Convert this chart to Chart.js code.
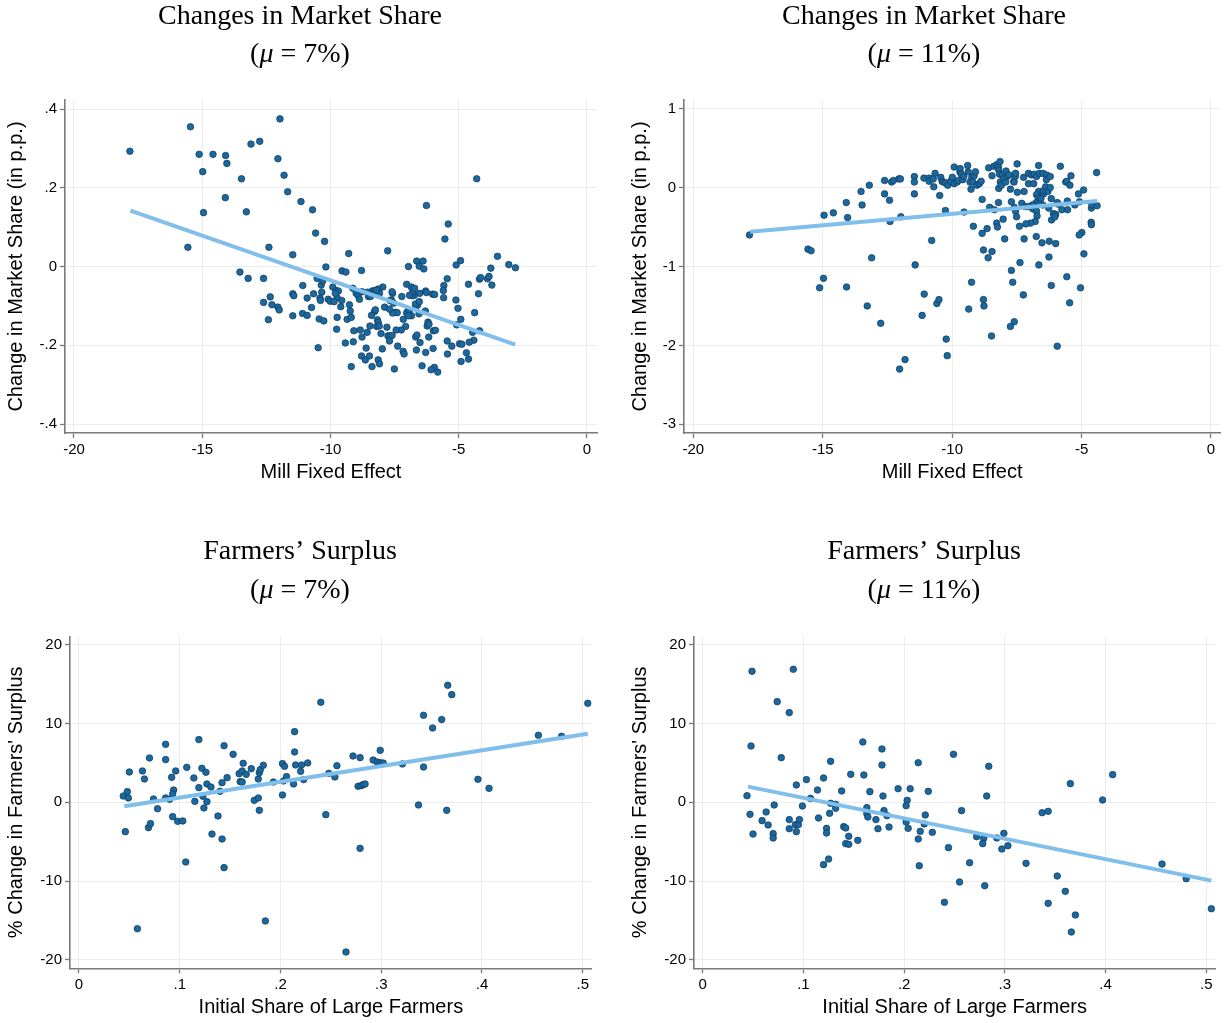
<!DOCTYPE html>
<html>
<head>
<meta charset="utf-8">
<script src="https://cdn.jsdelivr.net/npm/chart.js@4.4.1/dist/chart.umd.min.js"></script>
<style>
  body { margin: 0; background: #fff; }
  #wrap { position: relative; width: 1225px; height: 1023px; }
  canvas { position: absolute; }
</style>
</head>
<body>
<div id="wrap">
  <canvas id="share7" width="612" height="511" style="left:0;top:0"></canvas>
  <canvas id="share11" width="613" height="511" style="left:612px;top:0"></canvas>
  <canvas id="surplus7" width="612" height="512" style="left:0;top:511px"></canvas>
  <canvas id="surplus11" width="613" height="512" style="left:612px;top:511px"></canvas>
</div>
<script>
// Tick values and labels
const millTicks = [-20, -15, -10, -5, 0];
const millLabels = ['-20', '-15', '-10', '-5', '0'];
const share7Ticks = [-0.4, -0.2, 0, 0.2, 0.4];
const share7Labels = ['-.4', '-.2', '0', '.2', '.4'];
const share11Ticks = [-3, -2, -1, 0, 1];
const share11Labels = ['-3', '-2', '-1', '0', '1'];
const largeTicks = [0, 0.1, 0.2, 0.3, 0.4, 0.5];
const largeLabels = ['0', '.1', '.2', '.3', '.4', '.5'];
const surplusTicks = [-20, -10, 0, 10, 20];
const surplusLabels = ['-20', '-10', '0', '10', '20'];

// Top-left: market share change, mu = 7%
const share7X = [
  -17.82,-15.46,-15.12,-14.58,-14.09,-14.04,-14.98,-13.10,-12.76,-11.97,-12.05,-11.81,-13.47,-11.67,-11.15,-10.70,
  -14.10,-14.95,-13.28,-10.58,-10.23,-15.56,-12.40,-11.47,-10.18,-13.53,-9.29,-7.77,-9.55,-9.40,-8.79,-6.96,
  -6.64,-6.39,-6.54,-6.36,-6.26,-5.41,-5.54,-4.30,-5.10,-4.93,-3.75,-3.49,-3.05,-2.79,-13.21,-12.61,
  -12.61,-12.35,-12.28,-12.05,-12.00,-12.42,-11.47,-11.43,-11.08,-10.91,-10.66,-10.74,-11.47,-11.09,-10.91,-10.36,
  -10.34,-10.41,-10.39,-10.09,-10.01,-10.44,-10.26,-10.48,-10.52,-9.91,-9.78,-9.74,-9.74,-9.76,-5.45,-5.58,
  -5.60,-5.59,-5.11,-5.03,-4.92,-5.08,-4.62,-4.23,-4.38,-4.19,-4.15,-3.88,-3.82,-3.71,-4.19,-4.46,
  -4.41,-4.59,-4.97,-4.88,-5.27,-5.45,-5.44,-4.70,-4.62,-4.91,-5.82,-5.95,-6.08,-6.43,-6.00,-6.29,
  -6.65,-6.51,-6.68,-6.63,-6.17,-5.99,-5.91,-6.23,-6.20,-6.16,-6.30,-6.55,-6.67,-6.60,-6.69,-6.54,
  -6.73,-6.82,-6.79,-6.92,-6.85,-7.03,-6.72,-6.52,-6.29,-6.26,-6.02,-5.94,-7.22,-6.99,-7.03,-6.93,
  -7.16,-6.84,-6.95,-7.07,-7.24,-7.44,-7.38,-7.17,-7.13,-7.51,-7.98,-7.80,-7.76,-7.68,-7.60,-7.70,
  -8.03,-7.48,-7.40,-7.58,-7.89,-7.70,-7.54,-7.62,-7.68,-7.58,-7.60,-7.96,-8.14,-8.09,-8.37,-8.28,
  -8.20,-8.52,-8.44,-8.56,-8.28,-8.25,-8.40,-8.17,-8.14,-8.20,-8.10,-8.46,-8.57,-8.77,-8.84,-9.09,
  -8.61,-9.11,-9.42,-8.79,-8.64,-8.48,-8.14,-8.09,-8.38,-9.19,-9.35,-9.19,-9.60,-9.26,-9.23,-9.56,
  -9.86,-9.69,-9.81,-10.30,-9.13,-9.00,-8.92,-8.87,-8.77
];
const share7Y = [
  0.293,0.355,0.285,0.285,0.282,0.262,0.241,0.311,0.318,0.375,0.274,0.232,0.223,0.190,0.165,0.144,
  0.175,0.137,0.139,0.085,0.064,0.049,0.049,0.030,-0.001,-0.014,0.033,0.040,-0.011,-0.014,-0.010,0.000,
  0.014,0.014,0.001,-0.006,0.155,0.108,0.070,0.223,0.004,0.015,-0.004,0.026,0.005,-0.003,-0.030,-0.030,
  -0.091,-0.077,-0.097,-0.103,-0.110,-0.135,-0.069,-0.074,-0.048,-0.080,-0.069,-0.104,-0.125,-0.119,-0.124,-0.047,
  -0.065,-0.080,-0.086,-0.083,-0.088,-0.133,-0.138,-0.206,-0.030,-0.052,-0.061,-0.079,-0.129,-0.159,-0.031,-0.048,
  -0.061,-0.079,-0.085,-0.106,-0.134,-0.148,-0.045,-0.069,-0.117,-0.032,-0.028,-0.031,-0.025,-0.047,-0.163,-0.167,
  -0.187,-0.192,-0.196,-0.197,-0.202,-0.189,-0.222,-0.219,-0.235,-0.241,-0.268,-0.256,-0.262,-0.252,-0.208,-0.218,
  -0.212,-0.193,-0.179,-0.174,-0.179,-0.163,-0.162,-0.151,-0.141,-0.146,-0.113,-0.120,-0.103,-0.097,-0.095,-0.089,
  -0.073,-0.074,-0.064,-0.073,-0.052,-0.045,-0.055,-0.068,-0.062,-0.066,-0.070,-0.071,-0.076,-0.114,-0.118,-0.113,
  -0.134,-0.125,-0.125,-0.152,-0.161,-0.161,-0.202,-0.215,-0.222,-0.260,-0.209,-0.154,-0.176,-0.176,-0.175,-0.189,
  -0.170,-0.116,-0.117,-0.118,-0.103,-0.108,-0.093,-0.085,-0.086,-0.068,-0.064,-0.052,-0.057,-0.068,-0.062,-0.061,
  -0.060,-0.076,-0.076,-0.065,-0.114,-0.110,-0.124,-0.135,-0.142,-0.152,-0.151,-0.151,-0.167,-0.179,-0.161,-0.163,
  -0.207,-0.191,-0.194,-0.227,-0.237,-0.227,-0.237,-0.247,-0.254,-0.254,-0.134,-0.129,-0.102,-0.097,-0.113,-0.086,
  -0.089,-0.062,-0.068,-0.036,-0.055,-0.068,-0.074,-0.083,-0.064
];
const share7FitX = [-17.8, -2.8];
const share7FitY = [0.142, -0.198];

// Top-right: market share change, mu = 11%
const share11X = [
  -17.83,-15.57,-15.45,-13.11,-11.43,-10.79,-14.97,-14.95,-14.59,-14.04,-14.09,-13.48,-13.52,-13.20,-12.61,-12.42,
  -12.40,-11.98,-12.61,-12.34,-12.27,-12.06,-12.00,-11.46,-11.46,-11.46,-11.09,-10.89,-10.89,-10.66,-10.73,-10.71,
  -10.48,-10.44,-10.39,-10.34,-10.26,-10.17,-10.26,
  -10.06,-9.99,-9.92,-9.92,-9.81,-9.76,-9.70,-9.69,-9.65,-9.59,-9.55,-9.40,-9.38,-9.31,-9.27,-9.24,
  -9.20,-9.15,-9.10,-9.04,-8.95,-8.88,-8.84,-8.59,-8.46,-8.39,-8.28,-8.21,-8.15,-8.20,-8.17,-8.06,
  -8.14,-8.20,-8.10,-7.92,-8.02,-7.93,-7.88,-7.80,-7.75,-7.62,-7.56,-7.55,-7.61,-7.49,-7.48,-7.22,
  -7.24,-7.05,-7.05,-6.93,-6.85,-6.83,-6.74,-6.66,-6.63,-6.49,-6.35,-6.36,-6.21,-6.47,-6.66,-6.74,
  -6.67,-6.75,-6.57,-6.48,-6.39,-6.30,-6.21,-6.17,-6.50,-6.66,-6.77,-6.88,-6.90,-6.74,-6.72,-6.79,
  -6.97,-7.15,-7.40,-7.55,-7.51,-7.60,-7.71,-7.31,-7.17,-7.04,-8.21,-8.55,-8.37,-8.28,-8.25,-8.65,
  -8.84,-9.18,-8.03,-7.97,-7.22,-6.75,-6.53,-6.25,-6.00,-6.26,-6.65,-7.38,-7.71,-7.66,-9.25,-8.46,
  -8.79,-8.61,-9.54,-6.17,-5.57,-5.90,-5.76,-5.54,-5.94,-6.27,-6.09,-6.00,-6.16,-6.03,-5.61,-5.57,
  -5.45,-5.41,-5.82,-5.12,-4.92,-4.62,-4.60,-4.40,-4.42,-5.55,-5.26,-5.08,-4.63,-4.62,-4.99,-5.09,
  -4.91,
  -11.08,-11.16,-10.59,-10.51,-10.23,-10.19,-11.82,-12.03,-9.36,-8.79,-8.77,-8.48,-7.75,-7.60,-7.25,-5.46,
  -5.94,-5.04,-15.12,-14.08,-13.28,-12.76
];
const share11Y = [
  -0.60,-0.78,-0.80,-0.89,-0.98,-0.67,-1.15,-0.35,-0.32,-0.38,-0.19,-0.22,-0.05,0.03,-0.08,-0.16,
  -0.43,-0.37,0.09,0.07,0.09,0.11,0.11,0.14,0.07,-0.08,0.12,0.12,0.08,0.18,0.11,0.01,
  -0.10,0.13,0.08,0.07,0.06,0.03,-0.29,
  0.08,0.13,0.26,0.05,0.07,0.09,0.20,0.24,0.17,0.10,0.14,0.28,0.20,0.07,-0.02,0.13,
  0.07,0.15,0.20,0.03,0.05,0.08,-0.15,0.25,0.15,0.27,0.29,0.26,0.33,0.22,0.17,0.16,
  0.07,-0.01,0.03,0.21,0.11,0.07,0.14,0.16,-0.02,0.08,0.14,0.18,0.07,0.30,-0.06,-0.05,
  0.13,0.18,0.05,0.16,0.05,0.17,0.14,0.28,0.18,0.18,0.16,0.10,0.14,-0.08,-0.05,-0.09,
  -0.13,-0.19,-0.14,-0.04,0.01,-0.05,0.00,-0.14,-0.22,-0.21,-0.25,-0.27,-0.22,-0.30,-0.36,-0.43,
  -0.45,-0.46,-0.49,-0.30,-0.37,-0.25,-0.18,-0.20,-0.24,-0.24,-0.19,-0.25,-0.28,-0.45,-0.50,-0.52,
  -0.58,-0.49,-0.40,-0.65,-0.65,-0.62,-0.70,-0.68,-0.71,-0.88,-0.98,-0.95,-1.05,-1.20,-1.20,-0.81,
  -0.79,-0.89,-0.31,-1.24,-1.13,-0.21,-0.28,-0.28,-0.19,-0.26,-0.33,-0.34,-0.41,-0.37,0.07,0.08,
  0.03,0.15,0.27,-0.08,-0.03,-0.26,-0.22,-0.23,0.19,-0.17,-0.22,-0.18,-0.44,-0.47,-0.57,-0.60,
  -0.84,
  -1.35,-1.62,-1.47,-1.42,-1.92,-2.13,-2.18,-2.30,-1.54,-1.42,-1.50,-1.88,-1.76,-1.70,-1.36,-1.46,
  -2.01,-1.27,-1.27,-1.26,-1.50,-1.72
];
const share11FitX = [-17.8, -4.4];
const share11FitY = [-0.56, -0.17];

// Bottom-left: farmers' surplus, mu = 7%
const surplus7X = [
  0.044,0.048,0.049,0.050,0.046,0.063,0.065,0.058,0.070,0.074,0.078,0.069,0.071,0.086,0.086,0.086,
  0.090,0.092,0.094,0.093,0.096,0.093,0.098,0.103,0.106,0.107,0.114,0.115,0.119,0.119,0.122,0.126,
  0.123,0.127,0.127,0.124,0.131,0.132,0.138,0.140,0.142,0.142,0.144,0.144,0.147,0.153,0.159,0.160,
  0.162,0.162,0.163,0.166,0.171,0.174,0.178,0.178,0.179,0.180,0.183,0.179,0.185,0.193,0.202,0.204,
  0.203,0.202,0.206,0.213,0.214,0.214,0.215,0.221,0.220,0.223,0.227,0.240,0.245,0.248,0.254,0.256,
  0.265,0.272,0.279,0.277,0.280,0.282,0.284,0.279,0.292,0.296,0.299,0.302,0.299,0.321,0.337,0.342,
  0.342,0.351,0.360,0.365,0.366,0.370,0.396,0.407,0.456,0.479,0.505
];
const surplus7Y = [
  0.80,1.35,0.55,3.85,-3.73,3.98,2.96,-16.05,5.63,0.42,-0.81,-3.22,-2.71,7.36,5.42,0.55,
  0.38,3.17,1.56,1.06,3.98,-1.82,-2.42,-2.37,-7.58,4.44,3.09,0.12,1.86,7.96,4.32,3.81,
  0.76,2.33,0.08,-0.72,1.94,-4.03,-1.74,1.39,-4.66,2.49,-8.30,7.19,3.13,6.09,3.64,2.62,
  2.58,3.98,4.95,3.55,4.27,0.25,0.55,2.96,3.76,4.15,4.70,-1.02,-15.07,2.58,4.91,4.57,
  2.71,0.93,3.26,2.33,6.39,8.97,4.74,4.74,3.93,2.88,5.00,12.70,-1.57,3.68,3.22,4.65,
  -19.01,5.88,5.67,2.03,2.11,2.24,2.33,-5.85,5.37,5.12,5.03,4.99,6.60,4.87,-0.34,4.48,
  11.05,9.44,10.50,-1.02,14.86,13.67,2.92,1.77,8.51,8.38,12.57
];
const surplus7FitX = [0.045, 0.505];
const surplus7FitY = [-0.5, 8.7];

// Bottom-right: farmers' surplus, mu = 11%
const surplus11X = [
  0.049,0.090,0.074,0.086,0.048,0.078,0.044,0.047,0.050,0.059,0.063,0.065,0.070,0.070,0.071,0.086,
  0.086,0.093,0.092,0.095,0.093,0.096,0.099,0.103,0.107,0.114,0.115,0.120,0.123,0.123,0.120,0.125,
  0.127,0.126,0.127,0.132,0.132,0.138,0.140,0.142,0.145,0.142,0.145,0.147,0.154,0.159,0.160,0.163,
  0.163,0.164,0.166,0.172,0.174,0.178,0.178,0.179,0.180,0.183,0.185,0.194,0.203,0.202,0.202,0.204,
  0.206,0.214,0.214,0.215,0.216,0.221,0.220,0.224,0.228,0.240,0.244,0.249,0.255,0.257,0.265,0.272,
  0.279,0.278,0.280,0.282,0.284,0.292,0.299,0.297,0.303,0.321,0.337,0.343,0.343,0.352,0.360,0.365,
  0.366,0.370,0.397,0.407,0.456,0.480,0.505
];
const surplus11Y = [
  16.64,16.89,12.78,11.39,7.15,5.67,0.84,-1.53,-4.03,-2.33,-1.23,-2.88,-3.98,-4.53,-0.34,-2.20,
  -3.35,2.20,-2.84,-2.84,-3.73,-2.20,-0.47,2.88,0.50,1.56,-1.99,3.09,-3.31,-3.90,-7.92,-7.20,
  5.20,-1.40,-0.13,-0.26,-0.76,1.44,-3.09,-3.26,-4.32,-5.25,-5.34,3.55,-4.83,7.66,3.47,-0.68,
  -1.44,-1.87,1.35,-2.20,-3.35,6.77,4.74,0.80,-1.06,-1.70,-3.14,1.73,0.25,-0.43,-2.50,-3.31,
  1.73,5.03,-4.66,-8.05,-3.69,-1.61,-2.75,1.39,-3.81,-12.70,-5.76,6.09,-10.12,-1.06,-7.67,-4.36,
  -4.57,-5.25,-10.59,0.80,4.57,-4.53,-3.94,-5.93,-5.51,-7.75,-1.32,-1.15,-12.83,-9.36,-11.31,2.37,
  -16.47,-14.31,0.29,3.51,-7.84,-9.70,-13.51
];
const surplus11FitX = [0.045, 0.505];
const surplus11FitY = [1.99, -9.95];

const sansFont = '"Liberation Sans", Arial, sans-serif';
const serifFont = '"Liberation Serif", "DejaVu Serif", serif';

// draws the two-line serif panel title, mu in italics
const panelTitle = {
  id: 'panelTitle',
  afterDraw(chart, args, o) {
    const ctx = chart.ctx;
    ctx.save();
    ctx.fillStyle = '#000';
    ctx.textBaseline = 'middle';
    ctx.textAlign = 'center';
    ctx.font = `${o.size}px ${serifFont}`;
    ctx.fillText(o.line1, o.x, o.y1);
    const parts = [['(', ''], ['\u03bc', 'italic '], [' = ' + o.mu + ')', '']];
    let w = 0;
    parts.forEach(p => { ctx.font = `${p[1]}${o.size}px ${serifFont}`; w += ctx.measureText(p[0]).width; });
    let x = o.x - w / 2;
    ctx.textAlign = 'left';
    parts.forEach(p => {
      ctx.font = `${p[1]}${o.size}px ${serifFont}`;
      ctx.fillText(p[0], x, o.y2);
      x += ctx.measureText(p[0]).width;
    });
    ctx.restore();
  }
};

function toPoints(xs, ys) {
  return xs.map((x, i) => ({x: x, y: ys[i]}));
}

function axis(p, ticks, labels, titleText, titlePad, fitSize) {
  return {
    type: 'linear',
    min: p.min,
    max: p.max,
    afterBuildTicks: s => { s.ticks = ticks.map(v => ({value: v})); },
    afterFit: s => { if (s.isHorizontal()) s.height = fitSize; else s.width = fitSize; },
    ticks: {
      callback: (v, i) => labels[i],
      font: {family: sansFont, size: 15},
      color: '#000',
      padding: 3,
      maxRotation: 0
    },
    grid: {color: '#ececec', lineWidth: 1, tickColor: '#7a7a7a', tickLength: 5, tickWidth: 1.3},
    border: {color: '#7a7a7a', width: 1.6},
    title: {
      display: true,
      text: titleText,
      font: {family: sansFont, size: 20},
      color: '#000',
      padding: titlePad
    }
  };
}

function makePanel(id, cfg) {
  new Chart(document.getElementById(id), {
    type: 'scatter',
    data: {
      datasets: [
        {
          data: toPoints(cfg.fitX, cfg.fitY),
          showLine: true,
          borderColor: 'rgb(128,190,235)',
          borderWidth: 4,
          pointRadius: 0,
          order: 0
        },
        {
          data: toPoints(cfg.xs, cfg.ys),
          backgroundColor: 'rgb(26,104,158)',
          borderColor: 'rgb(14,58,92)',
          borderWidth: 0.7,
          pointRadius: 3.3,
          order: 1
        }
      ]
    },
    options: {
      responsive: false,
      animation: false,
      layout: {padding: cfg.pad},
      plugins: {
        legend: {display: false},
        tooltip: {enabled: false},
        panelTitle: cfg.title
      },
      scales: {
        x: axis(cfg.xRange, cfg.xTicks, cfg.xLabels, cfg.xTitle, {top: 0, bottom: cfg.xTitlePad}, cfg.xFit),
        y: axis(cfg.yRange, cfg.yTicks, cfg.yLabels, cfg.yTitle, {top: cfg.yTitlePad, bottom: 0}, cfg.yFit)
      }
    },
    plugins: [panelTitle]
  });
}

makePanel('share7', {
  xs: share7X, ys: share7Y, fitX: share7FitX, fitY: share7FitY,
  xRange: {min: -20.35, max: 0.39}, yRange: {min: -0.4226, max: 0.423},
  xTicks: millTicks, xLabels: millLabels, yTicks: share7Ticks, yLabels: share7Labels,
  xTitle: 'Mill Fixed Effect', yTitle: 'Change in Market Share (in p.p.)',
  pad: {top: 100, right: 15, bottom: 0, left: 0}, xFit: 78, yFit: 65, xTitlePad: 27, yTitlePad: 4,
  title: {line1: 'Changes in Market Share', mu: '7%', x: 300, y1: 17, y2: 55, size: 28}
});

makePanel('share11', {
  xs: share11X, ys: share11Y, fitX: share11FitX, fitY: share11FitY,
  xRange: {min: -20.36, max: 0.36}, yRange: {min: -3.11, max: 1.11},
  xTicks: millTicks, xLabels: millLabels, yTicks: share11Ticks, yLabels: share11Labels,
  xTitle: 'Mill Fixed Effect', yTitle: 'Change in Market Share (in p.p.)',
  pad: {top: 100, right: 3.5, bottom: 0, left: 0}, xFit: 78, yFit: 72, xTitlePad: 27, yTitlePad: 16,
  title: {line1: 'Changes in Market Share', mu: '11%', x: 312, y1: 17, y2: 55, size: 28}
});

makePanel('surplus7', {
  xs: surplus7X, ys: surplus7Y, fitX: surplus7FitX, fitY: surplus7FitY,
  xRange: {min: -0.0089, max: 0.5089}, yRange: {min: -21.08, max: 21.08},
  xTicks: largeTicks, xLabels: largeLabels, yTicks: surplusTicks, yLabels: surplusLabels,
  xTitle: 'Initial Share of Large Farmers', yTitle: "% Change in Farmers' Surplus",
  pad: {top: 125.3, right: 20.3, bottom: 0, left: 0}, xFit: 54.7, yFit: 70, xTitlePad: 4, yTitlePad: 4,
  title: {line1: 'Farmers\u2019 Surplus', mu: '7%', x: 300, y1: 41, y2: 80, size: 28}
});

makePanel('surplus11', {
  xs: surplus11X, ys: surplus11Y, fitX: surplus11FitX, fitY: surplus11FitY,
  xRange: {min: -0.0086, max: 0.5089}, yRange: {min: -21.08, max: 21.08},
  xTicks: largeTicks, xLabels: largeLabels, yTicks: surplusTicks, yLabels: surplusLabels,
  xTitle: 'Initial Share of Large Farmers', yTitle: "% Change in Farmers' Surplus",
  pad: {top: 125.3, right: 9.7, bottom: 0, left: 0}, xFit: 54.7, yFit: 82, xTitlePad: 4, yTitlePad: 16,
  title: {line1: 'Farmers\u2019 Surplus', mu: '11%', x: 312, y1: 41, y2: 80, size: 28}
});
</script>
</body>
</html>
